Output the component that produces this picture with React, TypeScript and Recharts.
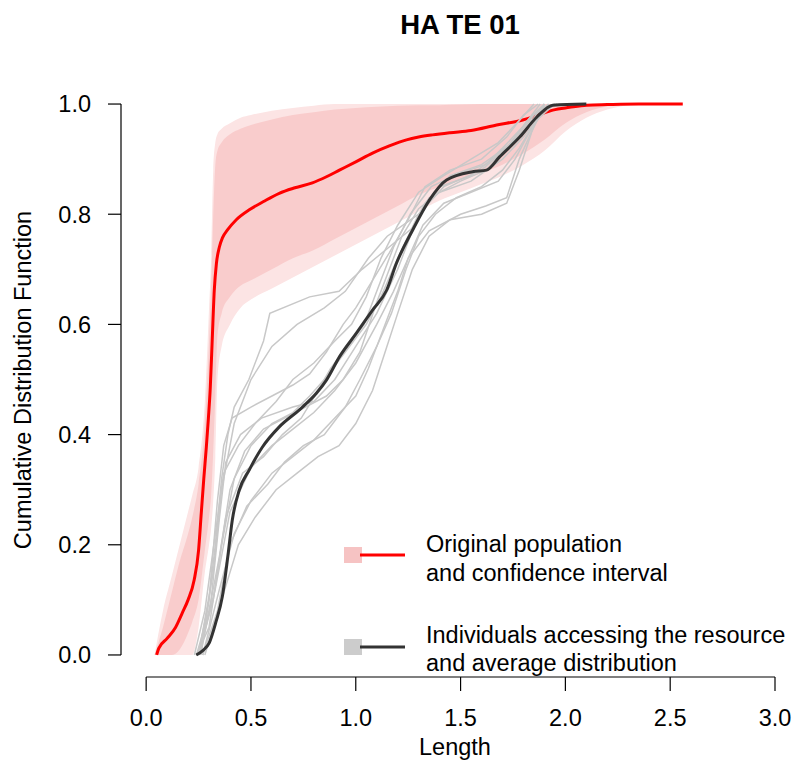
import React from 'react';
import { ComposedChart, Line, Area, XAxis, YAxis, ReferenceLine } from 'recharts';

const FONT = '"Liberation Sans", Arial, Helvetica, sans-serif';
const FS = 23.5;

const xTicks = [0, 0.5, 1, 1.5, 2, 2.5, 3];
const yTicks = [0, 0.2, 0.4, 0.6, 0.8, 1];

// Pink confidence band (envelopes of the bootstrapped CDFs)
const bandX = [0.04, 0.08, 0.12, 0.16, 0.2, 0.22, 0.25, 0.28, 0.3, 0.31, 0.32, 0.33, 0.34, 0.36, 0.4, 0.45, 0.5, 0.6, 0.7, 0.8, 0.9, 1.0, 1.1, 1.2, 1.3, 1.4, 1.5, 1.6, 1.7, 1.8, 1.9, 2.0, 2.1, 2.2, 2.3, 2.4];
const outerHi = [0, 0.08, 0.14, 0.2, 0.26, 0.29, 0.34, 0.46, 0.63, 0.72, 0.88, 0.93, 0.945, 0.955, 0.965, 0.975, 0.98, 0.988, 0.993, 0.997, 1, 1, 1, 1, 1, 1, 1, 1, 1, 1, 1, 1, 1, 1, 1, 1];
const outerLo = [0, 0, 0, 0, 0, 0, 0.05, 0.15, 0.2, 0.23, 0.28, 0.36, 0.5, 0.56, 0.6, 0.63, 0.645, 0.665, 0.685, 0.705, 0.725, 0.745, 0.765, 0.785, 0.805, 0.825, 0.84, 0.855, 0.87, 0.89, 0.915, 0.95, 0.975, 0.99, 0.998, 1];
const coreHi = [0, 0.05, 0.11, 0.17, 0.22, 0.25, 0.31, 0.42, 0.57, 0.67, 0.8, 0.89, 0.915, 0.93, 0.945, 0.955, 0.962, 0.972, 0.98, 0.985, 0.99, 0.993, 0.995, 0.997, 0.998, 0.998, 0.999, 1, 1, 1, 1, 1, 1, 1, 1, 1];
const coreLo = [0, 0, 0, 0.01, 0.04, 0.06, 0.1, 0.19, 0.25, 0.29, 0.37, 0.47, 0.58, 0.62, 0.65, 0.67, 0.68, 0.7, 0.72, 0.735, 0.755, 0.775, 0.795, 0.815, 0.835, 0.85, 0.862, 0.875, 0.89, 0.91, 0.935, 0.965, 0.985, 0.996, 1, 1];

// Original population CDF (red)
const redX = [0.05, 0.06, 0.1, 0.14, 0.172, 0.2, 0.229, 0.25, 0.263, 0.275, 0.287, 0.297, 0.306, 0.315, 0.325, 0.335, 0.349, 0.365, 0.387, 0.43, 0.492, 0.56, 0.635, 0.71, 0.793, 0.86, 0.922, 1.0, 1.08, 1.16, 1.242, 1.3, 1.366, 1.45, 1.55, 1.672, 1.796, 1.87, 1.94, 2.02, 2.102, 2.2, 2.35, 2.56];
const redY = [0, 0.012, 0.03, 0.05, 0.076, 0.1, 0.136, 0.19, 0.258, 0.32, 0.377, 0.43, 0.486, 0.57, 0.662, 0.71, 0.74, 0.758, 0.771, 0.79, 0.808, 0.823, 0.838, 0.848, 0.857, 0.868, 0.88, 0.895, 0.911, 0.924, 0.935, 0.94, 0.944, 0.948, 0.952, 0.962, 0.971, 0.98, 0.989, 0.994, 0.998, 0.999, 1, 1];

// Average distribution of individuals (dark)
const avgX = [0.239, 0.27, 0.301, 0.333, 0.363, 0.39, 0.411, 0.444, 0.492, 0.554, 0.635, 0.731, 0.812, 0.86, 0.922, 1.003, 1.08, 1.147, 1.194, 1.271, 1.352, 1.433, 1.557, 1.624, 1.686, 1.782, 1.863, 1.94, 2.1];
const avgY = [0, 0.008, 0.022, 0.06, 0.105, 0.18, 0.245, 0.299, 0.336, 0.377, 0.414, 0.445, 0.475, 0.499, 0.541, 0.584, 0.626, 0.662, 0.711, 0.771, 0.826, 0.862, 0.877, 0.88, 0.904, 0.94, 0.976, 0.998, 1];

// Individual CDFs (light gray)
const gray01 = [[0.25, 0], [0.3, 0.1], [0.33, 0.2], [0.36, 0.32], [0.39, 0.4], [0.42, 0.45], [0.49, 0.5], [0.56, 0.57], [0.59, 0.62], [0.78, 0.65], [0.92, 0.66], [1.03, 0.7], [1.11, 0.725], [1.19, 0.75], [1.27, 0.775], [1.33, 0.82], [1.45, 0.87], [1.6, 0.89], [1.75, 0.93], [1.85, 0.98], [1.92, 1]];
const gray02 = [[0.25, 0], [0.32, 0.15], [0.36, 0.3], [0.42, 0.42], [0.5, 0.5], [0.6, 0.56], [0.72, 0.6], [0.85, 0.63], [0.95, 0.66], [1.06, 0.72], [1.15, 0.76], [1.3, 0.8], [1.42, 0.85], [1.6, 0.88], [1.72, 0.92], [1.82, 0.97], [1.9, 1]];
const gray03 = [[0.24, 0], [0.3, 0.05], [0.36, 0.2], [0.42, 0.32], [0.5, 0.38], [0.6, 0.42], [0.7, 0.44], [0.78, 0.47], [0.85, 0.5], [0.95, 0.55], [1.05, 0.6], [1.12, 0.65], [1.2, 0.72], [1.3, 0.8], [1.4, 0.85], [1.55, 0.87], [1.65, 0.9], [1.8, 0.95], [1.88, 0.99], [1.95, 1]];
const gray04 = [[0.26, 0], [0.31, 0.1], [0.35, 0.25], [0.38, 0.35], [0.45, 0.4], [0.55, 0.43], [0.7, 0.45], [0.8, 0.46], [0.9, 0.5], [1.0, 0.56], [1.1, 0.62], [1.2, 0.7], [1.28, 0.78], [1.35, 0.83], [1.5, 0.86], [1.62, 0.88], [1.72, 0.92], [1.82, 0.97], [1.9, 1]];
const gray05 = [[0.27, 0], [0.34, 0.08], [0.4, 0.2], [0.48, 0.27], [0.58, 0.31], [0.66, 0.35], [0.75, 0.38], [0.85, 0.4], [0.95, 0.45], [1.02, 0.5], [1.1, 0.56], [1.17, 0.62], [1.24, 0.7], [1.3, 0.76], [1.38, 0.8], [1.48, 0.83], [1.6, 0.85], [1.7, 0.88], [1.78, 0.92], [1.86, 0.97], [1.95, 1]];
const gray06 = [[0.28, 0], [0.36, 0.1], [0.44, 0.2], [0.52, 0.25], [0.62, 0.3], [0.72, 0.33], [0.82, 0.36], [0.92, 0.38], [1.0, 0.42], [1.08, 0.48], [1.14, 0.55], [1.2, 0.62], [1.27, 0.7], [1.35, 0.76], [1.45, 0.79], [1.6, 0.8], [1.72, 0.82], [1.78, 0.88], [1.84, 0.95], [1.9, 1]];
const gray07 = [[0.25, 0], [0.33, 0.12], [0.4, 0.26], [0.5, 0.34], [0.6, 0.38], [0.7, 0.41], [0.8, 0.44], [0.9, 0.48], [1.0, 0.53], [1.1, 0.6], [1.18, 0.66], [1.25, 0.72], [1.35, 0.77], [1.5, 0.8], [1.62, 0.815], [1.72, 0.83], [1.78, 0.9], [1.85, 0.96], [1.9, 1]];
const gray08 = [[0.23, 0], [0.28, 0.08], [0.33, 0.22], [0.37, 0.33], [0.44, 0.38], [0.52, 0.42], [0.62, 0.46], [0.7, 0.5], [0.8, 0.53], [0.9, 0.57], [0.98, 0.6], [1.05, 0.65], [1.12, 0.72], [1.2, 0.78], [1.3, 0.84], [1.42, 0.87], [1.55, 0.9], [1.68, 0.93], [1.78, 0.97], [1.85, 1]];
const gray09 = [[0.25, 0], [0.32, 0.1], [0.38, 0.25], [0.46, 0.33], [0.56, 0.36], [0.65, 0.4], [0.74, 0.43], [0.82, 0.48], [0.88, 0.52], [0.96, 0.56], [1.04, 0.6], [1.12, 0.68], [1.18, 0.74], [1.26, 0.8], [1.36, 0.85], [1.5, 0.875], [1.62, 0.89], [1.7, 0.92], [1.8, 0.96], [1.88, 1]];
const gray10 = [[0.26, 0], [0.3, 0.1], [0.34, 0.28], [0.37, 0.38], [0.41, 0.43], [0.5, 0.45], [0.6, 0.47], [0.7, 0.49], [0.78, 0.51], [0.86, 0.55], [0.94, 0.6], [1.0, 0.63], [1.08, 0.68], [1.16, 0.73], [1.25, 0.79], [1.33, 0.85], [1.45, 0.88], [1.6, 0.9], [1.72, 0.94], [1.8, 0.98], [1.87, 1]];
const gray11 = [[0.27, 0], [0.35, 0.12], [0.42, 0.22], [0.5, 0.28], [0.6, 0.33], [0.7, 0.36], [0.8, 0.39], [0.9, 0.43], [1.0, 0.47], [1.06, 0.52], [1.12, 0.58], [1.2, 0.66], [1.25, 0.72], [1.32, 0.78], [1.42, 0.82], [1.55, 0.84], [1.68, 0.86], [1.76, 0.9], [1.83, 0.95], [1.92, 1]];
const gray12 = [[0.24, 0], [0.3, 0.08], [0.35, 0.18], [0.4, 0.3], [0.47, 0.37], [0.56, 0.41], [0.66, 0.43], [0.76, 0.45], [0.86, 0.47], [0.94, 0.5], [1.02, 0.55], [1.1, 0.64], [1.16, 0.7], [1.22, 0.76], [1.3, 0.81], [1.4, 0.84], [1.55, 0.86], [1.7, 0.9], [1.8, 0.94], [1.9, 0.99], [1.96, 1]];
const grayLines = [gray01, gray02, gray03, gray04, gray05, gray06, gray07, gray08, gray09, gray10, gray11, gray12];

const pts = (xs: number[], ys: number[]) => xs.map((x, i) => ({ x, y: ys[i] }));
const bandRows = bandX.map((x, i) => ({ x, outer: [outerLo[i], outerHi[i]], core: [coreLo[i], coreHi[i]] }));
const redData = pts(redX, redY);
const avgData = pts(avgX, avgY);
const grayData = grayLines.map((l) => l.map(([x, y]) => ({ x, y })));

const tickStyle = { fill: '#000', fontSize: FS, fontFamily: FONT };

export default function App() {
  return (
    <div style={{ position: 'absolute', left: 0, top: 0, width: 792, height: 760, overflow: 'hidden', background: '#fff' }}>
      <ComposedChart width={792} height={760} margin={{ top: 82, right: 17, bottom: 0, left: 0 }}>
        <XAxis
          type="number"
          dataKey="x"
          domain={[-0.12, 3]}
          ticks={xTicks}
          interval={0}
          allowDataOverflow
          tickFormatter={(v: number) => v.toFixed(1)}
          axisLine={false}
          tickLine={{ stroke: '#000', strokeWidth: 1.2 }}
          tickSize={14}
          tickMargin={18}
          height={83}
          tick={tickStyle}
        />
        <YAxis
          type="number"
          dataKey="y"
          domain={[-0.04, 1.04]}
          ticks={yTicks}
          interval={0}
          allowDataOverflow
          tickFormatter={(v: number) => v.toFixed(1)}
          axisLine={false}
          tickLine={{ stroke: '#000', strokeWidth: 1.2 }}
          tickSize={13}
          tickMargin={17}
          width={121}
          tick={tickStyle}
        />
        <Area data={bandRows} dataKey="outer" type="monotone" stroke="none" fill="#fce4e4" fillOpacity={1} isAnimationActive={false} />
        <Area data={bandRows} dataKey="core" type="monotone" stroke="none" fill="#f9cccc" fillOpacity={1} isAnimationActive={false} />
        <Line data={redData} dataKey="y" type="monotone" stroke="#ff0000" strokeWidth={3} dot={false} isAnimationActive={false} />
        {grayData.map((d, i) => (
          <Line key={i} data={d} dataKey="y" type="linear" stroke="#c8c8c8" strokeWidth={1.5} dot={false} isAnimationActive={false} />
        ))}
        <Line data={avgData} dataKey="y" type="monotone" stroke="#333333" strokeWidth={3} dot={false} isAnimationActive={false} />
        <ReferenceLine segment={[{ x: 0, y: -0.04 }, { x: 3, y: -0.04 }]} stroke="#000" strokeWidth={1.2} ifOverflow="visible" />
        <ReferenceLine segment={[{ x: -0.12, y: 0 }, { x: -0.12, y: 1 }]} stroke="#000" strokeWidth={1.2} ifOverflow="visible" />
      </ComposedChart>
      <svg width={792} height={760} style={{ position: 'absolute', left: 0, top: 0, pointerEvents: 'none' }}>
        <text x={460} y={34} textAnchor="middle" fontFamily={FONT} fontWeight="bold" fontSize={27.5} fill="#000">HA TE 01</text>
        <text transform="translate(31,380) rotate(-90)" textAnchor="middle" fontFamily={FONT} fontSize={FS} fill="#000">Cumulative Distribution Function</text>
        <text x={455} y={755} textAnchor="middle" fontFamily={FONT} fontSize={FS} fill="#000">Length</text>
        <rect x={344} y={547} width={18} height={16} fill="#f6c3c3" />
        <line x1={360} y1={555} x2={405} y2={555} stroke="#ff0000" strokeWidth={3} />
        <text x={426} y={552} fontFamily={FONT} fontSize={FS} fill="#000">Original population</text>
        <text x={426} y={581} fontFamily={FONT} fontSize={FS} fill="#000">and confidence interval</text>
        <rect x={344} y={639} width={18} height={16} fill="#cccccc" />
        <line x1={360} y1={647} x2={405} y2={647} stroke="#333333" strokeWidth={3} />
        <text x={426} y={643} fontFamily={FONT} fontSize={FS} fill="#000">Individuals accessing the resource</text>
        <text x={426} y={671} fontFamily={FONT} fontSize={FS} fill="#000">and average distribution</text>
      </svg>
    </div>
  );
}
